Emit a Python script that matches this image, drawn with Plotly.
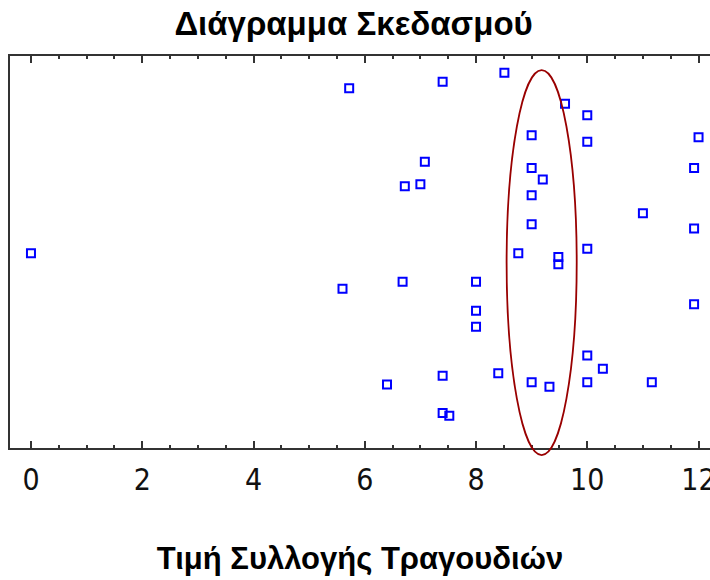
import plotly.graph_objects as go

# Data (x = price, y = vertical jitter position 0..1)
price = [5.72, 7.40, 8.51, 9.60, 10.0, 9.0, 10.0, 12.0, 7.08, 9.0,
         11.92, 9.20, 6.72, 7.00, 9.0, 11.0, 11.92, 9.0, 8.76, 10.0,
         9.48, 9.48, 6.68, 8.0, 8.0, 8.0, 11.92, 10.0, 10.28, 8.40,
         7.40, 6.40, 9.0, 9.32, 10.0, 11.16, 7.40, 7.52, 0.0, 5.60]
jitter = [0.918, 0.934, 0.957, 0.878, 0.849, 0.798, 0.781, 0.793, 0.730, 0.714,
          0.714, 0.685, 0.668, 0.673, 0.645, 0.599, 0.560, 0.571, 0.497, 0.508,
          0.487, 0.469, 0.424, 0.424, 0.350, 0.309, 0.367, 0.236, 0.202, 0.191,
          0.184, 0.162, 0.168, 0.156, 0.168, 0.168, 0.089, 0.082, 0.497, 0.406]

x_ticks = [0, 2, 4, 6, 8, 10, 12]
x_tick_labels = ["0", "2", "4", "6", "8", "10", "12"]

# Highlight ellipse extents (x in data units, y in the 0..1 jitter scale)
ellipse_x = [8.55, 9.81]
ellipse_y = [-0.018, 0.964]

title_text = "Διάγραμμα Σκεδασμού"
x_title = "Τιμή Συλλογής Τραγουδιών"

FONT = "Liberation Sans, Arial, sans-serif"
NARROW = "Liberation Sans Narrow, Arial Narrow, DejaVu Sans Condensed, Liberation Sans, sans-serif"

fig = go.Figure()
fig.add_trace(go.Scatter(
    x=price, y=jitter, mode="markers",
    marker=dict(symbol="square-open", size=8, color="#0000FF",
                line=dict(width=2, color="#0000FF")),
    cliponaxis=False, showlegend=False, hoverinfo="x",
))

fig.add_shape(type="circle", xref="x", yref="paper",
              x0=ellipse_x[0], x1=ellipse_x[1], y0=ellipse_y[0], y1=ellipse_y[1],
              line=dict(color="#990000", width=1.8), layer="above")

fig.update_layout(
    width=710, height=580,
    margin=dict(l=10, r=0, t=56, b=132, autoexpand=False),
    paper_bgcolor="white", plot_bgcolor="white",
    title=dict(text=title_text, x=0.498, xref="container", xanchor="center",
               y=1 - 23 / 580, yref="container", yanchor="middle",
               font=dict(family=FONT, size=33, color="#000000", weight="bold")),
    showlegend=False,
)

fig.update_xaxes(
    range=[-0.377, 12.206], showgrid=False, zeroline=False, automargin=False,
    showline=True, linecolor="#333333", linewidth=2, mirror="ticks",
    tickmode="array", tickvals=x_ticks, ticktext=x_tick_labels,
    ticks="inside", ticklen=7, tickwidth=1.5, tickcolor="#333333",
    minor=dict(dtick=0.5, ticks="inside", ticklen=3, tickwidth=1.5, tickcolor="#333333", showgrid=False),
    tickfont=dict(family=NARROW, size=30, color="#111111"),
    ticklabelstandoff=4, ticklabeloverflow="allow",
    title=dict(text=x_title, standoff=51,
               font=dict(family=FONT, size=31, color="#000000", weight="bold")),
)

fig.update_yaxes(
    range=[0, 1], showgrid=False, zeroline=False, automargin=False,
    showline=True, linecolor="#333333", linewidth=2, mirror=False,
    showticklabels=False, ticks="",
)

fig.write_html(
    "out.html",
    config={"displayModeBar": False},
    post_script="document.body.style.margin='0';document.body.style.overflow='hidden';",
)
